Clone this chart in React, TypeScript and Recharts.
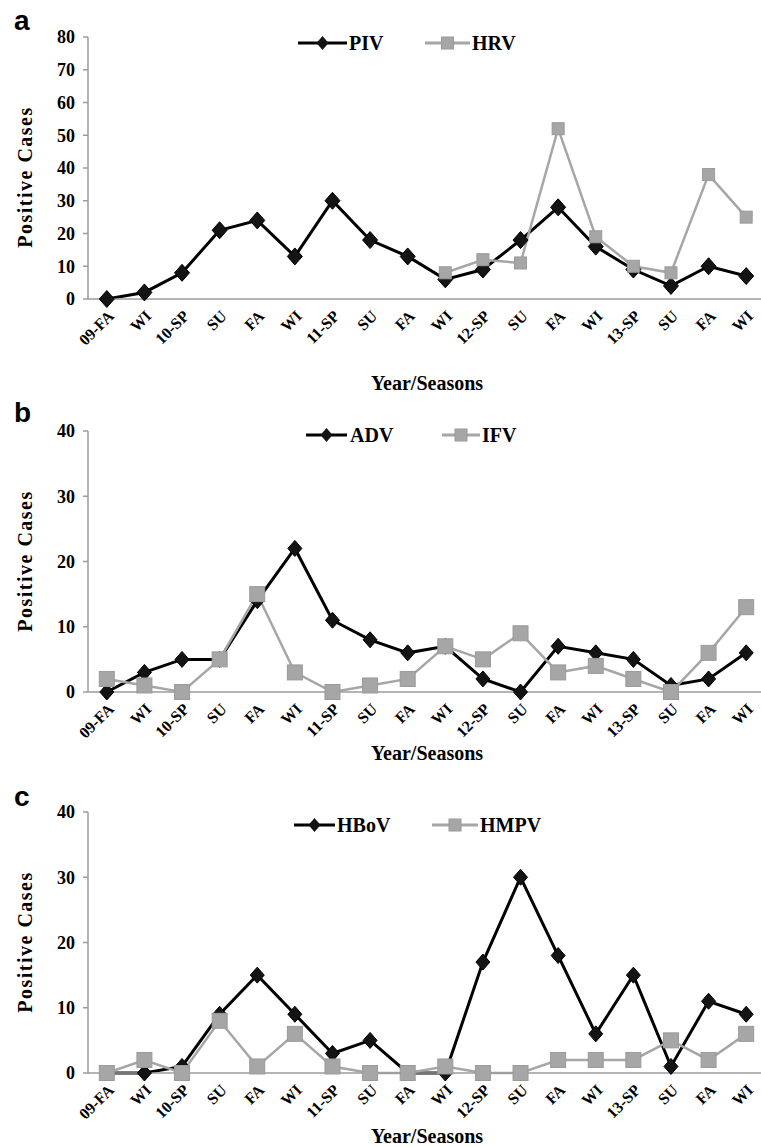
import React from 'react';
import { LineChart, Line, XAxis, YAxis } from 'recharts';

// ---------- data ----------
const categories = ['09-FA', 'WI', '10-SP', 'SU', 'FA', 'WI', '11-SP', 'SU', 'FA', 'WI', '12-SP', 'SU', 'FA', 'WI', '13-SP', 'SU', 'FA', 'WI'];

const pivValues = [0, 2, 8, 21, 24, 13, 30, 18, 13, 6, 9, 18, 28, 16, 9, 4, 10, 7];
const hrvValues = [null, null, null, null, null, null, null, null, null, 8, 12, 11, 52, 19, 10, 8, 38, 25];

const advValues = [0, 3, 5, 5, 14, 22, 11, 8, 6, 7, 2, 0, 7, 6, 5, 1, 2, 6];
const ifvValues = [2, 1, 0, 5, 15, 3, 0, 1, 2, 7, 5, 9, 3, 4, 2, 0, 6, 13];

const hbovValues = [0, 0, 1, 9, 15, 9, 3, 5, 0, 0, 17, 30, 18, 6, 15, 1, 11, 9];
const hmpvValues = [0, 2, 0, 8, 1, 6, 1, 0, 0, 1, 0, 0, 2, 2, 2, 5, 2, 6];

const yTicksA = [0, 10, 20, 30, 40, 50, 60, 70, 80];
const yTicksBC = [0, 10, 20, 30, 40];
const bandEdges = categories.map((_, i) => i).concat([categories.length]);

const buildRows = (a: (number | null)[], b: (number | null)[]) =>
  categories.map((c, i) => ({ cat: c, s1: a[i], s2: b[i] }));

const dataA = buildRows(pivValues, hrvValues);
const dataB = buildRows(advValues, ifvValues);
const dataC = buildRows(hbovValues, hmpvValues);

// ---------- style ----------
const FONT = '"Liberation Serif", "Times New Roman", serif';
const SANS = '"Liberation Sans", Arial, sans-serif';
const GRAY = '#a6a6a6';
const GRAY_STROKE = '#9a9a9a';
const AXIS = '#9c9c9c';

const CHART_W = 775;
const PLOT_LEFT = 88;
const PLOT_RIGHT = 765;
const PLOT_W = PLOT_RIGHT - PLOT_LEFT;
const BAND = PLOT_W / categories.length;
const X_AXIS_H = 30;
const BAND_AXIS_H = 1;

const diamondDot = (hw: number, hh: number) => (props: any) => {
  const { cx, cy, index, value } = props;
  if (cx == null || cy == null || value == null || Number.isNaN(cy)) return <g key={'d' + index} />;
  return (
    <path
      key={'d' + index}
      d={`M${cx},${cy - hh}L${cx + hw},${cy}L${cx},${cy + hh}L${cx - hw},${cy}Z`}
      fill="#141414"
      stroke="#000"
      strokeWidth={1}
    />
  );
};

const squareDot = (s: number) => (props: any) => {
  const { cx, cy, index, value } = props;
  if (cx == null || cy == null || value == null || Number.isNaN(cy)) return <g key={'s' + index} />;
  return (
    <rect
      key={'s' + index}
      x={cx - s / 2}
      y={cy - s / 2}
      width={s}
      height={s}
      fill={GRAY}
      stroke={GRAY_STROKE}
      strokeWidth={1}
    />
  );
};

type PanelProps = {
  top: number;
  height: number;
  plotTop: number;
  plotBottom: number;
  data: any[];
  yMax: number;
  yTicks: number[];
  dSize: [number, number];
  sSize: number;
};

const Panel = ({ top, height, plotTop, plotBottom, data, yMax, yTicks, dSize, sSize }: PanelProps) => (
  <div style={{ position: 'absolute', left: 0, top, width: CHART_W, height }}>
    <LineChart
      width={CHART_W}
      height={height}
      data={data}
      margin={{
        top: plotTop - top,
        left: 0,
        right: CHART_W - PLOT_RIGHT,
        bottom: height - (plotBottom - top) - X_AXIS_H - BAND_AXIS_H,
      }}
    >
      <XAxis
        xAxisId="band"
        type="number"
        domain={[0, categories.length]}
        ticks={bandEdges}
        interval={0}
        height={BAND_AXIS_H}
        axisLine={false}
        tick={false}
        tickLine={{ stroke: AXIS, strokeWidth: 1.5 }}
        tickSize={5}
      />
      <XAxis
        dataKey="cat"
        padding={{ left: BAND / 2, right: BAND / 2 }}
        interval={0}
        height={X_AXIS_H}
        angle={-45}
        textAnchor="end"
        tickLine={false}
        tickSize={6}
        tickMargin={4}
        axisLine={{ stroke: AXIS, strokeWidth: 1.5 }}
        tick={{ fill: '#000', fontSize: 16, fontWeight: 700, fontFamily: FONT }}
      />
      <YAxis
        width={PLOT_LEFT}
        domain={[0, yMax]}
        ticks={yTicks}
        interval={0}
        axisLine={{ stroke: AXIS, strokeWidth: 1.5 }}
        tickLine={{ stroke: AXIS, strokeWidth: 1.5 }}
        tickSize={5}
        tickMargin={8}
        tick={{ fill: '#000', fontSize: 18, fontWeight: 700, fontFamily: FONT }}
      />
      <Line
        dataKey="s1"
        type="linear"
        stroke="#000"
        strokeWidth={3}
        dot={diamondDot(dSize[0], dSize[1])}
        activeDot={false}
        isAnimationActive={false}
      />
      <Line
        dataKey="s2"
        type="linear"
        stroke={GRAY}
        strokeWidth={2.5}
        dot={squareDot(sSize)}
        activeDot={false}
        isAnimationActive={false}
      />
    </LineChart>
  </div>
);

type LegendProps = {
  y: number;
  l1: [number, number];
  t1x: number;
  n1: string;
  l2: [number, number];
  t2x: number;
  n2: string;
};

const LegendRow = ({ y, l1, t1x, n1, l2, t2x, n2 }: LegendProps) => {
  const m1 = (l1[0] + l1[1]) / 2;
  const m2 = (l2[0] + l2[1]) / 2;
  return (
    <g>
      <line x1={l1[0]} x2={l1[1]} y1={y} y2={y} stroke="#000" strokeWidth={3} />
      <path d={`M${m1},${y - 7}L${m1 + 6},${y}L${m1},${y + 7}L${m1 - 6},${y}Z`} fill="#141414" />
      <text x={t1x} y={y} dominantBaseline="central" fontFamily={FONT} fontWeight={700} fontSize={20} fill="#000">
        {n1}
      </text>
      <line x1={l2[0]} x2={l2[1]} y1={y} y2={y} stroke={GRAY} strokeWidth={3} />
      <rect x={m2 - 6} y={y - 6} width={12} height={12} fill={GRAY} stroke={GRAY_STROKE} />
      <text x={t2x} y={y} dominantBaseline="central" fontFamily={FONT} fontWeight={700} fontSize={20} fill="#000">
        {n2}
      </text>
    </g>
  );
};

const YTitle = ({ cy }: { cy: number }) => (
  <g transform={`translate(25, ${cy}) rotate(-90)`}>
    <text
      x={0}
      y={0}
      textAnchor="middle"
      dominantBaseline="central"
      fontFamily={FONT}
      fontWeight={700}
      fontSize={20}
      letterSpacing={1.5}
      fill="#000"
    >
      Positive Cases
    </text>
  </g>
);

const XTitle = ({ cy }: { cy: number }) => (
  <text x={427} y={cy} textAnchor="middle" dominantBaseline="central" fontFamily={FONT} fontWeight={700} fontSize={20} fill="#000">
    Year/Seasons
  </text>
);

const Letter = ({ ch, x, y }: { ch: string; x: number; y: number }) => (
  <text x={x} y={y} fontFamily={SANS} fontWeight={700} fontSize={28} fill="#000">
    {ch}
  </text>
);

export default function App() {
  return (
    <div style={{ position: 'absolute', left: 0, top: 0, width: 761, height: 1147, overflow: 'hidden', background: '#fff' }}>
      <Panel top={0} height={400} plotTop={37} plotBottom={299} data={dataA} yMax={80} yTicks={yTicksA} dSize={[7.5, 8.5]} sSize={12} />
      <Panel top={380} height={400} plotTop={431} plotBottom={692} data={dataB} yMax={40} yTicks={yTicksBC} dSize={[7, 8]} sSize={15} />
      <Panel top={760} height={387} plotTop={812} plotBottom={1073} data={dataC} yMax={40} yTicks={yTicksBC} dSize={[7, 8]} sSize={15} />
      <svg width={761} height={1147} style={{ position: 'absolute', left: 0, top: 0, pointerEvents: 'none' }}>
        <Letter ch="a" x={14} y={30} />
        <Letter ch="b" x={14} y={422} />
        <Letter ch="c" x={14} y={806} />
        <YTitle cy={177} />
        <YTitle cy={561} />
        <YTitle cy={942} />
        <XTitle cy={383} />
        <XTitle cy={753} />
        <XTitle cy={1136} />
        <LegendRow y={43} l1={[298, 347]} t1x={349} n1="PIV" l2={[425, 470]} t2x={472} n2="HRV" />
        <LegendRow y={435} l1={[306, 347]} t1x={350} n1="ADV" l2={[442, 480]} t2x={482} n2="IFV" />
        <LegendRow y={825} l1={[294, 335]} t1x={337} n1="HBoV" l2={[432, 478]} t2x={480} n2="HMPV" />
      </svg>
    </div>
  );
}
